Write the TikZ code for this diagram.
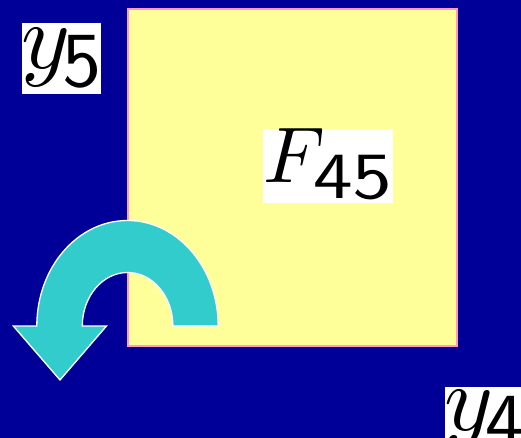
\RequirePackage{fix-cm}
\documentclass[tikz,border=0pt]{standalone}
\usepackage{graphicx}
\definecolor{bgblue}{RGB}{0,0,153}
\definecolor{padyellow}{RGB}{255,255,153}
\definecolor{padpink}{RGB}{255,153,204}
\definecolor{arrowcyan}{RGB}{51,204,204}
\font\ymathfont=cmmi10 at 93bp
\font\fmathfont=cmmi10 at 79bp
\font\bigdigits=cmss10 at 78bp
\font\subdigits=cmss10 at 66bp
\tikzset{
  whitebox/.style={fill=white, draw=none, inner sep=0pt, outer sep=0pt},
  bigmath/.style={inner sep=0pt, outer sep=0pt, anchor=base west, text=black},
}
\begin{document}
\begin{tikzpicture}[x=1bp,y=-1bp]
\useasboundingbox (0,0) rectangle (521,438);
\clip (0,0) rectangle (521,438);
\fill[bgblue] (0,0) rectangle (521,438);
% yellow square
\node[fill=padyellow, draw=padpink, line width=1.5bp, inner sep=0pt, outer sep=0pt,
      minimum width=329bp, minimum height=337bp, anchor=north west] (sq) at (128,8.8) {};
% curved arrow
\draw[fill=arrowcyan, draw=white, line width=1.3bp, line join=miter]
  (173,326) -- (218.2,326)
  arc[start angle=0, end angle=-180, x radius=90.7, y radius=105.5]
  -- (13.3,326) -- (60,380) -- (106.5,326) -- (82.3,326)
  arc[start angle=-180, end angle=0, x radius=45.3, y radius=53.5]
  -- cycle;
% labels
\node[whitebox, minimum width=79bp, minimum height=71bp, anchor=north west] (y5box) at (22,23) {};
\node[bigmath] (y5y) at (21,69) {\ymathfont y};
\node[bigmath] (y5n) at (62.5,87) {\bigdigits 5};
\node[whitebox, minimum width=130bp, minimum height=74bp, anchor=north west] (fbox) at (263,129) {};
\node[bigmath] (ff) at (263,183) {\fmathfont F};
\node[bigmath] (fn) at (313,198.5) {\scalebox{1.2}[1]{\subdigits 45}};
\node[whitebox, minimum width=90bp, minimum height=70bp, anchor=north west] (y4box) at (445,387) {};
\node[bigmath] (y4y) at (444,430) {\ymathfont y};
\node[bigmath] (y4n) at (485,447) {\bigdigits 4};
\end{tikzpicture}
\end{document}
